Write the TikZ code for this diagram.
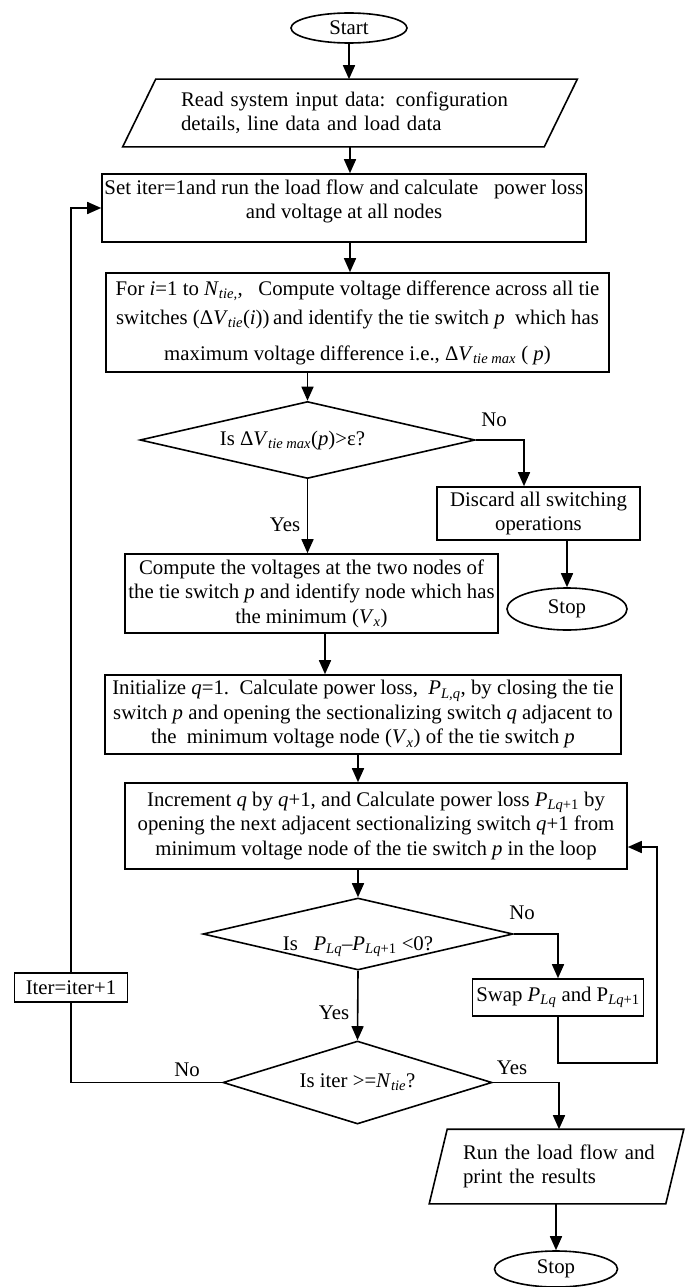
\documentclass[tikz,border=0pt]{standalone}
\usepackage{fontspec}
\setmainfont{Liberation Serif}
\usetikzlibrary{arrows.meta,shapes.geometric}
\newcommand\tsub[1]{\textsubscript{\textit{#1}}}
\begin{document}
\begin{tikzpicture}[x=1pt,y=-1pt,
  font=\fontsize{20.8}{24.5}\selectfont,
  line width=1.6pt,
  arr/.style={-{Triangle[length=14pt,width=12pt]}},
  box/.style={draw, rectangle, inner xsep=1pt, inner ysep=2pt, align=center},
  dia/.style={draw, diamond, inner sep=0pt, align=center},
  term/.style={draw, ellipse, inner sep=0pt},
  plain/.style={draw=none, inner sep=0pt},
  lbl/.style={inner sep=0pt}]
\useasboundingbox (0,0) rectangle (685,1287);

% nodes
\node[term, minimum width=116pt, minimum height=30pt] (start) at (349,28) {Start};
\node[plain, minimum width=420pt, minimum height=66pt, text width=338pt, align=left] (read) at (350,113)
  {\makebox[337pt][s]{Read system input data: configuration}\\details, line data and load data};
\draw ([xshift=16.5pt]read.north west) -- ([xshift=16.5pt]read.north east)
   -- ([xshift=-16.5pt]read.south east) -- ([xshift=-16.5pt]read.south west) -- cycle;
\node[box, minimum width=484pt, minimum height=68pt] (setiter) at (344,208)
  {\raisebox{6.5pt}[\height][\depth]{\begin{tabular}{@{}c@{}}Set iter=1and run the load flow and calculate\ \ \ power loss\\and voltage at all nodes\end{tabular}}};
\node[box, minimum width=503pt, minimum height=99pt] (fortie) at (357.5,322.5)
  {For \textit{i}=1 to \textit{N}\tsub{tie,},\ \ \ Compute voltage difference across all tie\\[4.5pt]
   switches (Δ\textit{V}\tsub{tie}(\textit{i}))\,and identify the tie switch \textit{p}\ \ which has\\[11.5pt]
   maximum voltage difference i.e., Δ\textit{V}\tsub{tie max} ( \textit{p})};
\node[dia, shape aspect=4.35, minimum width=335pt, minimum height=77pt] (d1) at (307.5,440)
  {\makebox[0pt]{\hspace*{-30pt}Is Δ\textit{V}\tsub{tie max}(\textit{p})>ε?}};
\node[box, minimum width=203pt, minimum height=53pt] (discard) at (538.5,513.5)
  {Discard all switching\\operations};
\node[term, minimum width=120pt, minimum height=42pt] (stop1) at (567,609) {Stop};
\node[box, minimum width=373pt, minimum height=79pt] (compute) at (311.5,593.5)
  {Compute the voltages at the two nodes of\\the tie switch \textit{p} and identify node which has\\the minimum (\textit{V}\tsub{x})};
\node[box, minimum width=516pt, minimum height=79pt] (init) at (363,714.5)
  {Initialize \textit{q}=1.\ \ Calculate power loss,\ \ \textit{P}\tsub{L,q}, by closing the tie\\
   switch \textit{p} and opening the sectionalizing switch \textit{q} adjacent to\\
   the\ \ minimum voltage node (\textit{V}\tsub{x}) of the tie switch \textit{p}};
\node[box, minimum width=502pt, minimum height=86pt] (inc) at (376,826)
  {Increment \textit{q} by \textit{q}+1, and Calculate power loss \textit{P}\textsubscript{\textit{Lq}+1} by\\
   opening the next adjacent sectionalizing switch \textit{q}+1 from\\
   minimum voltage node of the tie switch \textit{p} in the loop};
\node[dia, shape aspect=4.3, minimum width=310pt, minimum height=72pt] (d2) at (358,934)
  {\raisebox{-12.5pt}[\height][\depth]{Is\ \ \ \textit{P}\tsub{Lq}–\textit{P}\textsubscript{\textit{Lq}+1} <0?}};
\node[box, minimum width=171pt, minimum height=37pt] (swap) at (558,997.5)
  {Swap \textit{P}\tsub{Lq} and P\textsubscript{\textit{Lq}+1}};
\node[box, minimum width=113pt, minimum height=29pt] (iter) at (71,987.5) {Iter=iter+1};
\node[dia, shape aspect=3.24, minimum width=269pt, minimum height=83pt] (d3) at (357.5,1082.5)
  {Is iter >=\textit{N}\tsub{tie}?};
\node[plain, minimum width=235pt, minimum height=73pt, text width=187pt, align=left] (run) at (556.5,1166.5)
  {\mbox{Run the load flow and}\\print the results};
\draw ([xshift=9pt]run.north west) -- ([xshift=9pt]run.north east)
   -- ([xshift=-9pt]run.south east) -- ([xshift=-9pt]run.south west) -- cycle;
\node[term, minimum width=123pt, minimum height=36pt] (stop2) at (556,1269) {Stop};

% labels
\node[lbl] (no1) at (494,420) {No};
\node[lbl] (yes1) at (285,525) {Yes};
\node[lbl] (no2) at (522,913) {No};
\node[lbl] (yes2) at (334,1013) {Yes};
\node[lbl] (no3) at (187,1070) {No};
\node[lbl] (yes3) at (512,1068) {Yes};

% connectors
\draw[arr] (start.south) -- (start.south |- read.north);
\draw[arr] (read.south) -- (read.south |- setiter.north);
\draw[arr] (read.south |- setiter.south) -- (read.south |- fortie.north);
\draw[arr] (d1.north |- fortie.south) -- (d1.north);
\draw[arr] (d1.east) -| ([xshift=-14.5pt]discard.north);
\draw[arr] (stop1.north |- discard.south) -- (stop1.north);
\draw[arr] (d1.south) -- (d1.south |- compute.north);
\draw[arr] ([xshift=13.5pt]compute.south) -- ([xshift=13.5pt]compute.south |- init.north);
\draw[arr] (d2.north |- init.south) -- (d2.north |- inc.north);
\draw[arr] (inc.south -| d2.north) -- (d2.north);
\draw[arr] (d2.east) -| (swap.north);
\coordinate (lp1) at (657,1063);
\coordinate (lp2) at (657,847);
\draw[arr] (swap.south) |- (lp1) -- (lp2) -- (lp2 -| inc.east);
\draw[arr] (d2.south) -- (d3.north);
\draw[arr] (d3.east) -| ([xshift=2.5pt]run.north);
\draw[arr] (stop2.north |- run.south) -- (stop2.north);
\draw (d3.west) -| (iter.south);
\draw[arr] (iter.north) |- (setiter.west);
\end{tikzpicture}
\end{document}
